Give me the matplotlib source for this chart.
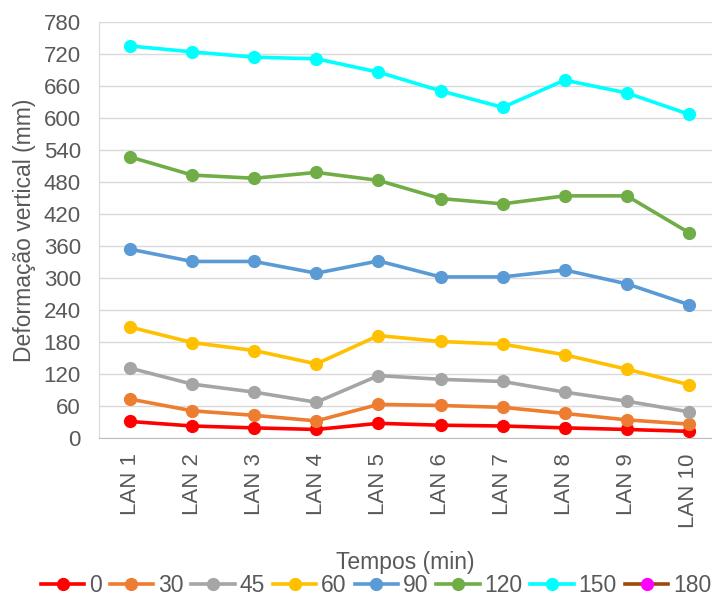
import matplotlib.pyplot as plt
from matplotlib.lines import Line2D

plt.rcParams['font.family'] = ['Liberation Sans', 'DejaVu Sans']

categorias = ['LAN 1', 'LAN 2', 'LAN 3', 'LAN 4', 'LAN 5',
              'LAN 6', 'LAN 7', 'LAN 8', 'LAN 9', 'LAN 10']

# deformacao vertical (mm) para cada tempo (min)
t0 = [31, 22.5, 19, 16, 27.5, 24, 22.5, 19, 16, 12.5]
t30 = [73, 51, 42.5, 32, 63, 61, 57.5, 46, 34, 26]
t45 = [131, 101, 86, 67, 117, 110, 106, 86, 69, 49]
t60 = [208, 179, 164, 139, 192, 181, 176, 156, 129, 100]
t90 = [354, 331, 331, 309, 332, 302, 302, 315, 289, 250]
t120 = [527, 493, 487, 498, 483, 449, 439, 454, 454, 385]
t150 = [735, 724, 714, 711, 686, 651, 620, 671, 647, 607]
t180 = []  # sem dados, so aparece na legenda

series = [('0', t0, '#FF0000', '#FF0000'),
          ('30', t30, '#ED7D31', '#ED7D31'),
          ('45', t45, '#A5A5A5', '#A5A5A5'),
          ('60', t60, '#FFC000', '#FFC000'),
          ('90', t90, '#5B9BD5', '#5B9BD5'),
          ('120', t120, '#70AD47', '#70AD47'),
          ('150', t150, '#00FFFF', '#00FFFF'),
          ('180', t180, '#9E480E', '#FF00FF')]

cinza = '#595959'

fig = plt.figure(figsize=(7.12, 5.97), dpi=100)
ax = fig.add_axes([99 / 712, 159 / 597, 613 / 712, 416 / 597])

x = list(range(len(categorias)))
handles = []
for nome, vals, cor_linha, cor_marc in series:
    if vals:
        ax.plot(x, vals, color=cor_linha, lw=2.6, marker='o', ms=8.5,
                markerfacecolor=cor_marc, markeredgecolor=cor_marc, zorder=3)
    handles.append(Line2D([], [], color=cor_linha, lw=2.6, marker='o', ms=8.5,
                          markerfacecolor=cor_marc, markeredgecolor=cor_marc))

ax.set_ylim(0, 780)
ax.set_yticks(range(0, 781, 60))
ax.set_xlim(-0.5, -0.5 + 613 / 62.1)
ax.set_xticks(x)
ax.set_xticklabels(categorias, rotation=90)
ax.grid(axis='y', color='#D9D9D9', lw=1)
ax.set_axisbelow(True)
ax.tick_params(length=0, labelsize=16, colors=cinza)
ax.tick_params(axis='y', pad=13)
ax.tick_params(axis='x', pad=11)
for s in ['top', 'right']:
    ax.spines[s].set_visible(False)
ax.spines['left'].set_color('#D9D9D9')
ax.spines['bottom'].set_color('#BFBFBF')
ax.set_ylabel('Deformação vertical (mm)', fontsize=16.5, color=cinza)
ax.yaxis.set_label_coords(-0.103, 0.5)

fig.text(405 / 712, 1 - 563 / 597, 'Tempos (min)', fontsize=16.5, color=cinza,
         ha='center', va='center')
fig.legend(handles, [s[0] for s in series], ncol=8, frameon=False,
           loc='center', bbox_to_anchor=(376 / 712, 1 - 586 / 597),
           fontsize=16.5, labelcolor=cinza, handlelength=1.9,
           handletextpad=0.2, columnspacing=0.35, borderaxespad=0)

fig.savefig('out.png', dpi=100)
